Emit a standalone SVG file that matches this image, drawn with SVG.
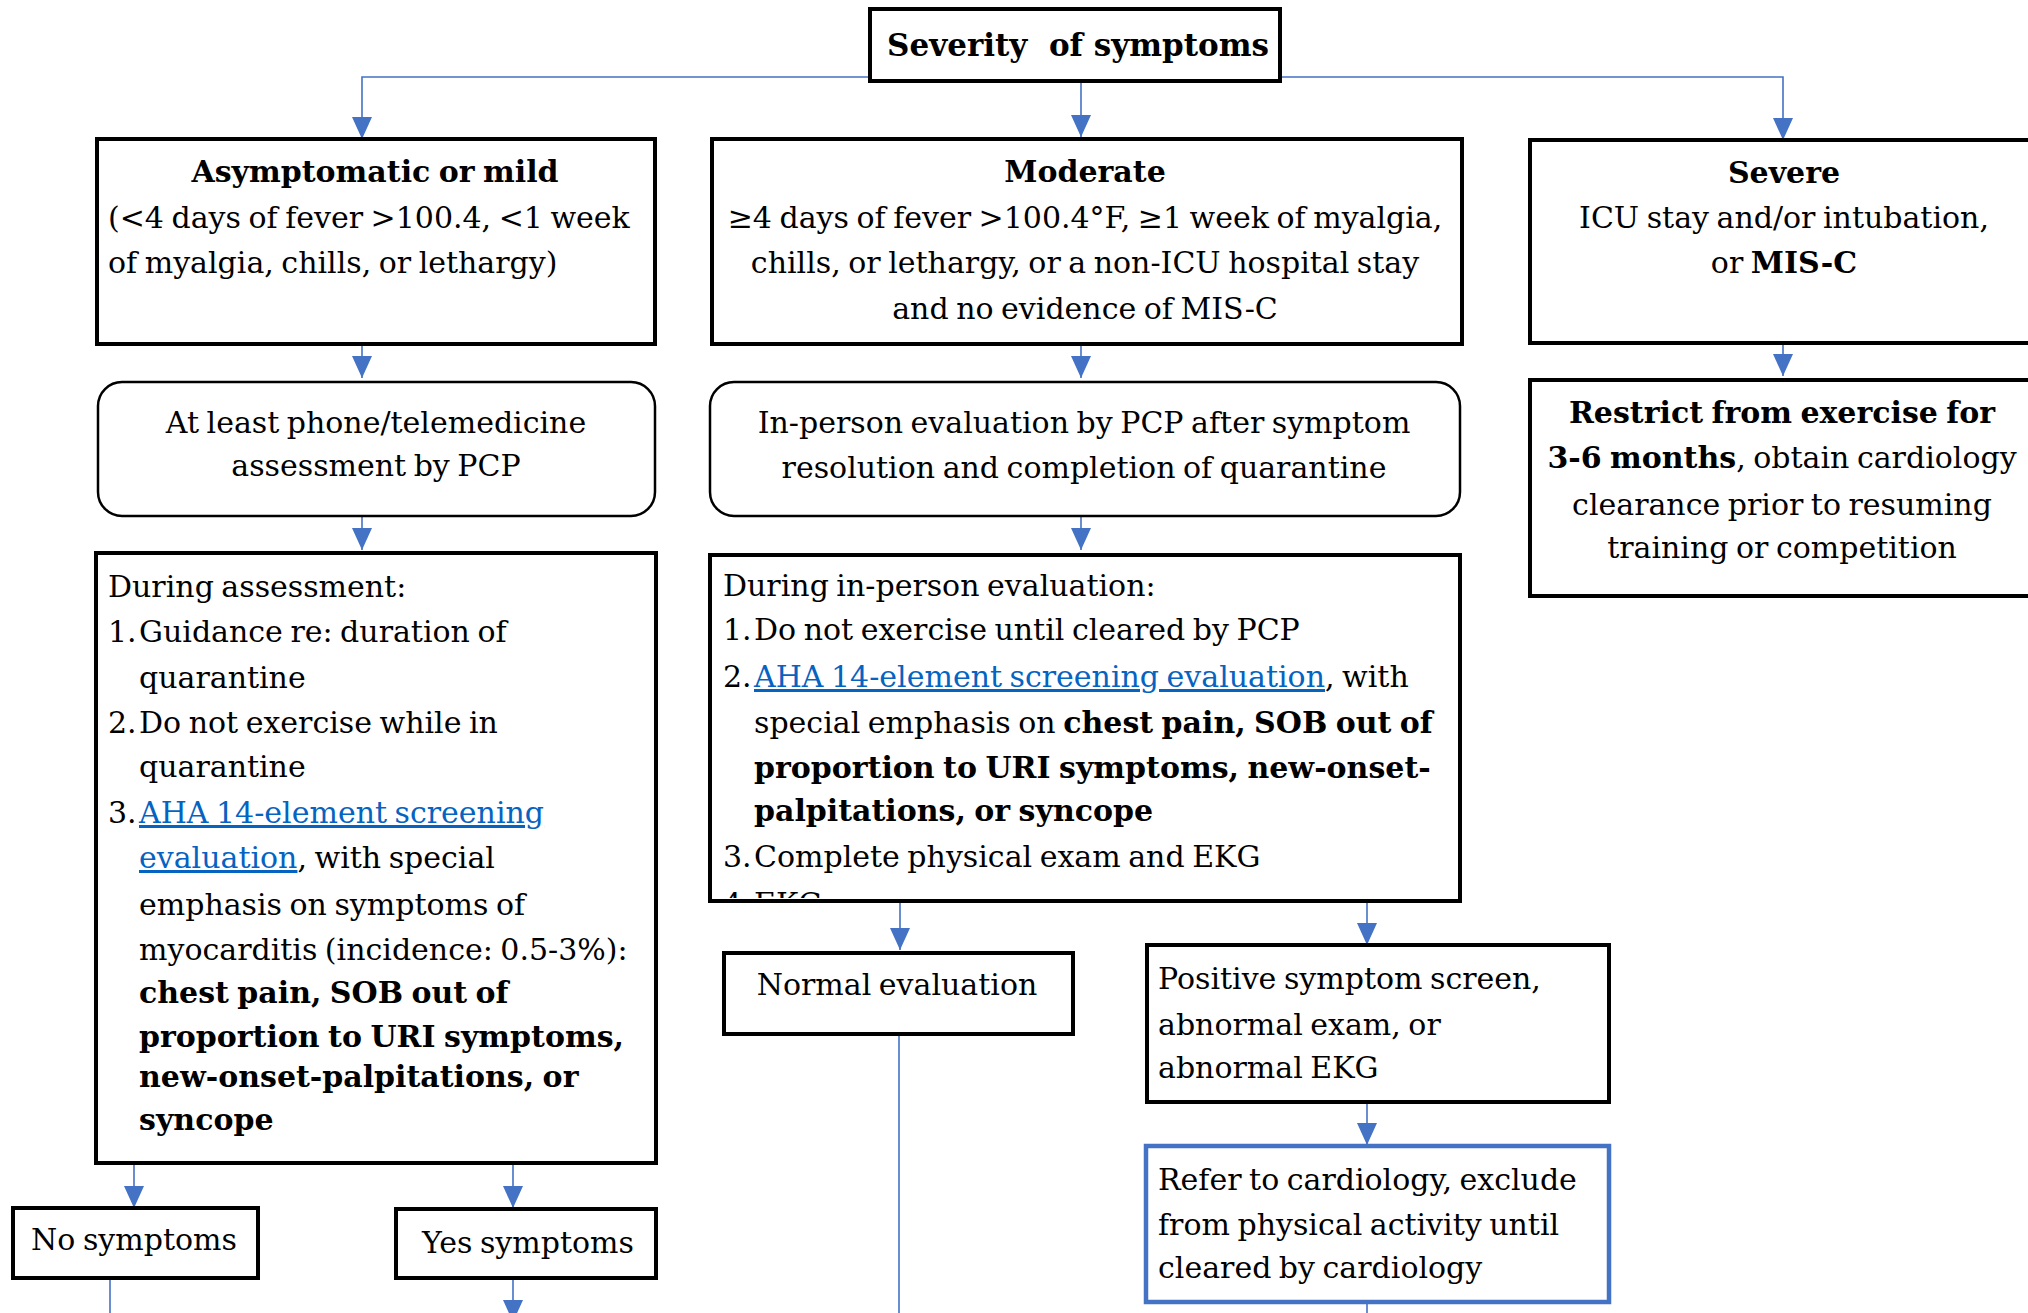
<svg xmlns="http://www.w3.org/2000/svg" width="2028" height="1313" viewBox="0 0 2028 1313">
<style>
.box{fill:#fff;stroke:#000;stroke-width:4}
.rbox{fill:#fff;stroke:#000;stroke-width:2.5}
.bbox{fill:#fff;stroke:#4472C4;stroke-width:4.5}
.t{font-family:"DejaVu Serif","Liberation Serif",serif;font-size:30px;word-spacing:-2px;fill:#000}
.b{font-weight:bold}
.c{text-anchor:middle}
.link{fill:#0563C1;text-decoration:underline}
.conn{stroke:#4472C4;stroke-width:1.6;fill:none}
</style>
<defs>
<marker id="arr" markerUnits="userSpaceOnUse" viewBox="0 -10 22 20" refX="22" refY="0" markerWidth="22" markerHeight="20" orient="auto">
<path d="M0,-10 L22,0 L0,10 z" fill="#4472C4"/>
</marker>
<clipPath id="clipMid"><rect x="712" y="557" width="746" height="341"/></clipPath>
</defs>
<rect width="2028" height="1313" fill="#fff"/>

<g id="connectors">
<path class="conn" d="M870,77 H362 V139" marker-end="url(#arr)"/>
<path class="conn" d="M1081,82 V137" marker-end="url(#arr)"/>
<path class="conn" d="M1280,77 H1783 V140" marker-end="url(#arr)"/>
<path class="conn" d="M362,344 V378" marker-end="url(#arr)"/>
<path class="conn" d="M1081,344 V378" marker-end="url(#arr)"/>
<path class="conn" d="M1783,344 V376" marker-end="url(#arr)"/>
<path class="conn" d="M362,516 V550" marker-end="url(#arr)"/>
<path class="conn" d="M1081,516 V550" marker-end="url(#arr)"/>
<path class="conn" d="M134,1163 V1208" marker-end="url(#arr)"/>
<path class="conn" d="M513,1163 V1208" marker-end="url(#arr)"/>
<path class="conn" d="M110,1278 V1313"/>
<path class="conn" d="M513,1278 V1322" marker-end="url(#arr)"/>
<path class="conn" d="M900,901 V950" marker-end="url(#arr)"/>
<path class="conn" d="M1367,901 V945" marker-end="url(#arr)"/>
<path class="conn" d="M899,1034 V1313"/>
<path class="conn" d="M1367,1102 V1145" marker-end="url(#arr)"/>
<path class="conn" d="M1367,1302 V1313"/>
</g>

<g id="title">
<rect class="box" x="870" y="9" width="410" height="72"/>
<text class="t b c" x="1078" y="56" style="font-size:31px;word-spacing:0" xml:space="preserve">Severity  of symptoms</text>
</g>

<g id="mild">
<rect class="box" x="97" y="139" width="558" height="205"/>
<text class="t b c" x="375" y="182">Asymptomatic or mild</text>
<text class="t" x="108" y="228">(&lt;4 days of fever &gt;100.4, &lt;1 week</text>
<text class="t" x="108" y="273">of myalgia, chills, or lethargy)</text>
</g>

<g id="moderate">
<rect class="box" x="712" y="139" width="750" height="205"/>
<text class="t b c" x="1085" y="182">Moderate</text>
<text class="t c" x="1085" y="228">≥4 days of fever &gt;100.4°F, ≥1 week of myalgia,</text>
<text class="t c" x="1085" y="273">chills, or lethargy, or a non-ICU hospital stay</text>
<text class="t c" x="1085" y="319">and no evidence of MIS-C</text>
</g>

<g id="severe">
<rect class="box" x="1530" y="140" width="520" height="203"/>
<text class="t b c" x="1784" y="183">Severe</text>
<text class="t c" x="1784" y="228">ICU stay and/or intubation,</text>
<text class="t c" x="1784" y="273">or <tspan class="b">MIS-C</tspan></text>
</g>

<g id="phone">
<rect class="rbox" x="98" y="382" width="557" height="134" rx="24" ry="24"/>
<text class="t c" x="376" y="433">At least phone/telemedicine</text>
<text class="t c" x="376" y="476">assessment by PCP</text>
</g>

<g id="inperson">
<rect class="rbox" x="710" y="382" width="750" height="134" rx="24" ry="24"/>
<text class="t c" x="1084" y="433">In-person evaluation by PCP after symptom</text>
<text class="t c" x="1084" y="478">resolution and completion of quarantine</text>
</g>

<g id="restrict">
<rect class="box" x="1530" y="380" width="520" height="216"/>
<text class="t b c" x="1782" y="423">Restrict from exercise for</text>
<text class="t c" x="1782" y="468"><tspan class="b">3-6 months</tspan>, obtain cardiology</text>
<text class="t c" x="1782" y="515">clearance prior to resuming</text>
<text class="t c" x="1782" y="558">training or competition</text>
</g>

<g id="assessment">
<rect class="box" x="96" y="553" width="560" height="610"/>
<text class="t" x="108" y="597">During assessment:</text>
<text class="t" x="108" y="642">1.</text><text class="t" x="139" y="642">Guidance re: duration of</text>
<text class="t" x="139" y="688">quarantine</text>
<text class="t" x="108" y="733">2.</text><text class="t" x="139" y="733">Do not exercise while in</text>
<text class="t" x="139" y="777">quarantine</text>
<text class="t" x="108" y="823">3.</text><text class="t link" x="139" y="823">AHA 14-element screening</text>
<text class="t" x="139" y="868"><tspan class="link">evaluation</tspan>, with special</text>
<text class="t" x="139" y="915">emphasis on symptoms of</text>
<text class="t" x="139" y="960">myocarditis (incidence: 0.5-3%):</text>
<text class="t b" x="139" y="1003">chest pain, SOB out of</text>
<text class="t b" x="139" y="1047">proportion to URI symptoms,</text>
<text class="t b" x="139" y="1087">new-onset-palpitations, or</text>
<text class="t b" x="139" y="1130">syncope</text>
</g>

<g id="evaluation">
<rect class="box" x="710" y="555" width="750" height="346"/>
<text class="t" x="723" y="596">During in-person evaluation:</text>
<text class="t" x="723" y="640">1.</text><text class="t" x="754" y="640">Do not exercise until cleared by PCP</text>
<text class="t" x="723" y="687">2.</text><text class="t" x="754" y="687"><tspan class="link">AHA 14-element screening evaluation</tspan>, with</text>
<text class="t" x="754" y="733">special emphasis on <tspan class="b">chest pain, SOB out of</tspan></text>
<text class="t b" x="754" y="778">proportion to URI symptoms, new-onset-</text>
<text class="t b" x="754" y="821">palpitations, or syncope</text>
<text class="t" x="723" y="867">3.</text><text class="t" x="754" y="867">Complete physical exam and EKG</text>
<g clip-path="url(#clipMid)">
<text class="t" x="723" y="914">4.</text><text class="t" x="754" y="914">EKG</text>
</g>
</g>

<g id="nosymptoms">
<rect class="box" x="13" y="1208" width="245" height="70"/>
<text class="t c" x="134" y="1250">No symptoms</text>
</g>

<g id="yessymptoms">
<rect class="box" x="396" y="1209" width="260" height="69"/>
<text class="t c" x="528" y="1253">Yes symptoms</text>
</g>

<g id="normal">
<rect class="box" x="724" y="953" width="349" height="81"/>
<text class="t c" x="897" y="995">Normal evaluation</text>
</g>

<g id="positive">
<rect class="box" x="1147" y="945" width="462" height="157"/>
<text class="t" x="1158" y="989">Positive symptom screen,</text>
<text class="t" x="1158" y="1035">abnormal exam, or</text>
<text class="t" x="1158" y="1078">abnormal EKG</text>
</g>

<g id="refer">
<rect class="bbox" x="1146" y="1146" width="463" height="156"/>
<text class="t" x="1158" y="1190">Refer to cardiology, exclude</text>
<text class="t" x="1158" y="1235">from physical activity until</text>
<text class="t" x="1158" y="1278">cleared by cardiology</text>
</g>
</svg>
